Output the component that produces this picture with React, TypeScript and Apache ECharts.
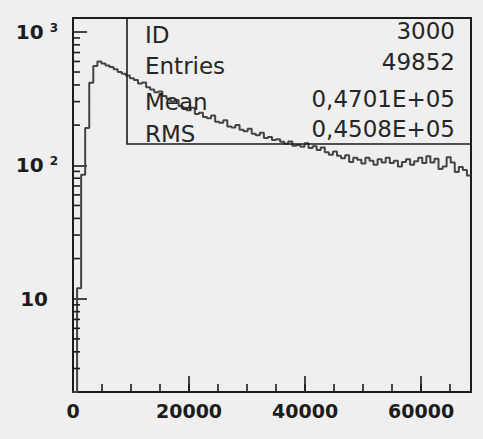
import React, { useEffect, useRef } from 'react';
import * as echarts from 'echarts';

const BIN_WIDTH = 700;
const X_MIN = 0;
const X_MAX = 68600;
const Y_MIN = 2;
const Y_MAX = 1270;

const COUNTS = [
  2, 12, 85, 190, 415, 555, 600, 580, 560, 545,
  525, 500, 485, 470, 450, 435, 410, 418, 385, 370,
  352, 358, 330, 315, 300, 308, 278, 270, 258, 270,
  242, 248, 230, 225, 236, 212, 208, 218, 195, 192,
  200, 185, 180, 188, 172, 168, 175, 160, 163, 155,
  157, 150, 145, 151, 140, 142, 138, 146, 135, 139,
  130, 136, 125, 120, 127, 118, 113, 119, 106, 114,
  110, 103, 114, 108, 101, 111, 105, 114, 104, 108,
  98, 106, 111, 101, 107, 114, 104, 117, 105, 112,
  94, 98, 115, 105, 89, 97, 92, 84,
];

const X_MAJOR_TICKS = [0, 20000, 40000, 60000];
const Y_DECADES = [10, 100, 1000];
const Y_MINOR_TICKS = [
  3, 4, 5, 6, 7, 8, 9,
  20, 30, 40, 50, 60, 70, 80, 90,
  200, 300, 400, 500, 600, 700, 800, 900,
];

const STAT_LABELS = ['ID', 'Entries', 'Mean', 'RMS'];
const STAT_VALUES = ['3000', '49852', '0,4701E+05', '0,4508E+05'];

const INK = '#1c1c1c';

export default function App() {
  const ref = useRef<HTMLDivElement>(null);

  useEffect(() => {
    const chart = echarts.init(ref.current!, null, { renderer: 'svg' });

    const histData: number[][] = COUNTS.map((c, i) => [X_MIN + i * BIN_WIDTH, c]);
    histData.push([X_MIN + COUNTS.length * BIN_WIDTH, COUNTS[COUNTS.length - 1]]);

    const leftY = [35, 65.5, 101.5, 133.5];
    const rightY = [31, 62, 98.5, 128.5];

    const graphics: any[] = [
      {
        type: 'rect',
        shape: { x: 127, y: 18, width: 344, height: 126 },
        style: { fill: 'none', stroke: INK, lineWidth: 1.6 },
        z: 20,
      },
    ];
    STAT_LABELS.forEach((t, i) => {
      graphics.push({
        type: 'text',
        x: 145,
        y: leftY[i],
        z: 21,
        style: {
          text: t,
          fill: '#262626',
          font: '23px "DejaVu Sans"',
          textAlign: 'left',
          textVerticalAlign: 'middle',
        },
      });
    });
    STAT_VALUES.forEach((t, i) => {
      graphics.push({
        type: 'text',
        x: 455,
        y: rightY[i],
        z: 21,
        style: {
          text: t,
          fill: '#262626',
          font: '23px "DejaVu Sans"',
          textAlign: 'right',
          textVerticalAlign: 'middle',
        },
      });
    });

    chart.setOption({
      animation: false,
      backgroundColor: '#efefef',
      grid: {
        left: 73,
        right: 12,
        top: 18,
        bottom: 47,
        show: true,
        borderColor: INK,
        borderWidth: 2,
        backgroundColor: 'transparent',
      },
      xAxis: [
        {
          type: 'value',
          min: X_MIN,
          max: X_MAX,
          interval: 20000,
          axisLine: { show: false },
          splitLine: { show: false },
          axisTick: { show: true, inside: true, length: 16, lineStyle: { color: INK, width: 1.6 } },
          axisLabel: {
            margin: 9,
            color: INK,
            fontFamily: 'DejaVu Sans',
            fontWeight: 'bold',
            fontSize: 19,
            showMaxLabel: false,
            formatter: (v: number) => (X_MAJOR_TICKS.includes(v) ? String(v) : ''),
          },
        },
        {
          type: 'value',
          min: X_MIN,
          max: X_MAX,
          interval: 5000,
          position: 'bottom',
          axisLine: { show: false },
          splitLine: { show: false },
          axisLabel: { show: false },
          axisTick: { show: true, inside: true, length: 8, lineStyle: { color: INK, width: 1.6 } },
        },
      ],
      yAxis: {
        type: 'log',
        logBase: 10,
        min: Y_MIN,
        max: Y_MAX,
        axisLine: { show: false },
        splitLine: { show: false },
        axisTick: { show: true, inside: true, length: 14, lineStyle: { color: INK, width: 1.6 } },
        axisLabel: {
          margin: 15,
          showMinLabel: false,
          showMaxLabel: false,
          formatter: (v: number) => {
            const e = Math.round(Math.log10(v));
            const p = Math.pow(10, e);
            if (!Y_DECADES.includes(p) || Math.abs(v - p) > 1e-6 * p) return '';
            if (e === 1) return '{b|10}{p| }';
            return '{b|10}{s|' + e + '}';
          },
          rich: {
            b: {
              fontFamily: 'DejaVu Sans',
              fontWeight: 'bold',
              fontSize: 20,
              color: INK,
              lineHeight: 20,
              padding: [8, 0, 0, 0],
              verticalAlign: 'bottom',
            },
            s: {
              fontFamily: 'DejaVu Sans',
              fontWeight: 'bold',
              fontSize: 12,
              color: INK,
              lineHeight: 12,
              padding: [0, 0, 0, 6],
              verticalAlign: 'top',
            },
            p: {
              fontSize: 12,
              width: 10,
            },
          },
        },
      },
      series: [
        {
          type: 'line',
          step: 'end',
          data: histData,
          xAxisIndex: 0,
          showSymbol: false,
          symbol: 'none',
          lineStyle: { color: '#444444', width: 2 },
          z: 5,
        },
        {
          type: 'custom',
          xAxisIndex: 0,
          data: Y_MINOR_TICKS.map((v) => [X_MIN, v]),
          renderItem: (_params: any, api: any) => {
            const pt = api.coord([api.value(0), api.value(1)]);
            return {
              type: 'line',
              shape: { x1: pt[0], y1: pt[1], x2: pt[0] + 7, y2: pt[1] },
              style: { stroke: INK, lineWidth: 1.6 },
            };
          },
          z: 6,
        },
      ],
      graphic: graphics,
    });

    return () => chart.dispose();
  }, []);

  return (
    <div
      ref={ref}
      style={{ position: 'fixed', left: 0, top: 0, width: 483, height: 439, background: '#efefef' }}
    />
  );
}
